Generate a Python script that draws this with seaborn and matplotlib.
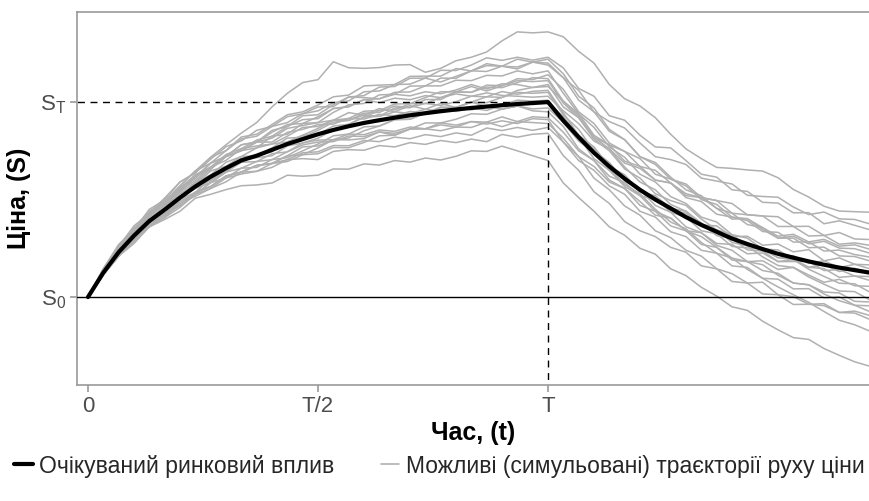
import matplotlib
matplotlib.use("Agg")
import matplotlib.pyplot as plt
import numpy as np
import pandas as pd
import seaborn as sns
from matplotlib.lines import Line2D

# ---------------- data ----------------
# time steps: step k corresponds to t = k/30 * T (T = 1)
steps = list(range(52))
steps_per_T = 30

# expected market impact, in units of (S_T - S_0), S_0 = 0, S_T = 1
expected_impact = [
    0.0, 0.125, 0.23, 0.315, 0.39, 0.448, 0.51, 0.567, 0.617, 0.661,
    0.701, 0.725, 0.755, 0.785, 0.81, 0.835, 0.857, 0.876, 0.893, 0.907,
    0.92, 0.932, 0.943, 0.953, 0.962, 0.97, 0.977, 0.984, 0.99, 0.995,
    1.0, 0.905, 0.82, 0.74, 0.67, 0.607, 0.55, 0.50, 0.455, 0.41,
    0.37, 0.335, 0.30, 0.272, 0.246, 0.222, 0.202, 0.183, 0.166, 0.151,
    0.138, 0.125,
]

# simulated price paths, as offsets from the expected curve (hundredths of S_T - S_0)
path_01 = [0,1,2,1,3,4,6,8,10,12, 14,17,22,26,29,28,35,30,28,27, 27,26,21,22,25,26,28,33,37,36,
           36,43,44,46,42,41,43,42,38,35, 34,33,36,38,40,39,35,33,30,29, 30,31]
path_02 = [0,1,0,2,4,3,5,4,7,6, 8,7,10,9,12,10,13,15,14,17, 16,19,18,21,20,22,25,23,24,22,
           23,27,25,29,26,30,28,27,31,29, 26,28,25,27,24,26,23,25,21,24, 23,22]
path_03 = [0,-1,1,0,2,1,3,2,4,6, 5,4,7,5,8,6,9,11,10,13, 12,15,14,17,16,19,21,20,23,21,
           22,24,21,23,19,20,17,18,15,16, 13,14,11,12,9,11,8,10,7,9, 8,8]
path_04 = [0,2,3,2,5,4,6,8,7,9, 11,10,12,11,13,12,14,13,16,15, 17,16,18,15,17,19,18,20,18,21,
           19,22,24,21,23,26,24,22,25,27, 24,26,28,25,27,29,26,24,27,25, 26,25]
path_05 = [0,1,2,4,3,5,4,6,5,7, 6,8,7,9,10,8,11,10,12,11, 13,12,14,13,15,14,16,15,17,15,
           16,14,12,13,10,11,8,9,6,7, 4,5,2,3,0,-2,-1,-4,-6,-8, -7,-10]
path_06 = [0,0,-1,1,0,-2,-1,-3,-1,-2, 0,-1,-3,-1,-2,-2,0,1,3,2, 5,4,7,6,9,8,11,10,13,12,
           14,16,13,15,12,14,16,13,15,17, 14,16,18,15,17,19,16,18,15,18, 16,17]
path_07 = [0,-1,-2,0,-1,1,0,2,1,3, 2,4,3,1,2,3,5,4,6,5, 7,6,8,10,9,11,8,10,12,11,
           11,9,10,7,8,5,6,3,4,6, 3,1,2,-1,0,2,-1,-3,-2,-5, -3,-4]
path_08 = [0,2,4,3,6,5,8,7,9,11, 10,13,12,14,13,14,12,15,13,11, 12,10,11,9,10,12,9,11,10,8,
           8,10,12,9,11,14,12,15,13,10, 12,9,11,13,10,8,11,9,12,10, 11,10]
path_09 = [0,-1,0,-2,-1,-3,-2,-4,-3,-5, -4,-6,-5,-7,-6,-5,-3,-4,-2,-3, -1,-2,0,2,1,3,2,4,6,5,
           5,3,4,1,2,-1,0,-3,-2,-5, -4,-7,-6,-9,-8,-11,-13,-12,-15,-17, -18,-20]
path_10 = [0,1,0,2,3,2,4,5,7,6, 8,7,9,10,8,9,11,10,12,9, 10,8,9,7,8,6,7,5,4,3,
           3,5,7,6,9,8,11,10,13,12, 14,16,13,15,17,14,16,13,15,12, 14,14]
path_11 = [0,1,2,1,3,2,4,3,5,4, 6,5,3,4,6,4,5,3,4,2, 3,1,2,0,1,-1,0,-2,-1,-3,
           -3,-1,-2,0,-2,-4,-3,-6,-5,-7, -6,-8,-10,-9,-11,-10,-13,-12,-14,-13, -16,-15]
path_12 = [0,-1,-2,-1,-3,-2,-4,-3,-5,-4, -6,-5,-7,-6,-4,-6,-5,-7,-8,-6, -9,-7,-8,-10,-9,-7,-8,-6,-9,-7,
           -8,-6,-7,-4,-5,-2,-3,0,-1,2, 0,3,1,4,2,5,3,6,2,5, 3,4]
path_13 = [0,0,-1,-2,-1,-3,-2,-4,-3,-2, -4,-3,-5,-4,-3,-4,-6,-5,-7,-6, -8,-7,-5,-6,-8,-7,-9,-8,-10,-8,
           -9,-11,-10,-13,-12,-14,-13,-16,-15,-17, -16,-19,-18,-20,-17,-21,-20,-22,-21,-23, -22,-24]
path_14 = [0,-1,0,-2,-1,-3,-4,-3,-5,-4, -6,-5,-7,-8,-7,-9,-8,-10,-9,-11, -10,-12,-11,-13,-12,-14,-11,-13,-12,-14,
           -13,-11,-12,-9,-10,-8,-11,-9,-12,-10, -13,-11,-14,-12,-15,-13,-16,-14,-17,-15, -18,-17]
path_15 = [0,-1,-2,-3,-2,-4,-5,-4,-6,-7, -6,-8,-9,-8,-10,-13,-11,-12,-14,-13, -15,-14,-16,-15,-17,-16,-18,-15,-17,-16,
           -16,-18,-17,-20,-19,-22,-21,-19,-20,-18, -21,-19,-22,-20,-23,-21,-24,-22,-20,-23, -21,-22]
path_16 = [0,-1,-2,-4,-3,-5,-7,-6,-9,-11, -13,-15,-17,-16,-19,-21,-20,-22,-21,-23, -22,-24,-23,-25,-24,-22,-23,-21,-24,-27,
           -30,-32,-31,-30,-31,-29,-30,-28,-31,-30, -32,-33,-35,-34,-37,-39,-41,-40,-43,-45, -47,-48]
path_17 = [0,2,3,5,4,6,8,7,10,9, 12,11,13,15,14,15,17,16,19,18, 17,20,19,18,21,19,22,20,19,21,
           20,22,19,21,18,20,17,19,16,14, 15,12,13,10,11,8,10,7,9,6, 7,6]
path_18 = [0,0,1,-1,0,-2,-1,0,-2,-1, 1,0,-1,1,2,0,2,1,3,5, 4,6,5,7,9,8,10,9,11,13,
           12,10,11,8,9,6,4,5,2,3, 0,1,-2,-1,-4,-6,-5,-8,-10,-12, -11,-14]
path_19 = [0,1,0,-1,1,0,2,1,3,1, 2,0,1,3,1,2,4,3,5,4, 6,4,5,3,4,6,5,7,5,6,
           6,4,1,2,-1,-3,-2,-5,-7,-6, -9,-11,-10,-13,-15,-17,-19,-21,-24,-27, -28,-30]
path_20 = [0,-1,-2,-1,-3,-4,-3,-5,-6,-5, -7,-8,-7,-9,-8,-10,-9,-11,-10,-8, -9,-7,-8,-6,-5,-3,-4,-2,-1,1,
           0,2,1,3,0,2,-1,1,-2,0, -3,-1,-4,-2,0,-2,1,-1,2,0, 3,2]
path_21 = [0,1,3,2,4,3,5,6,4,6, 5,7,6,8,7,6,5,7,4,6, 3,5,2,4,1,3,0,-2,-1,-4,
           -5,-3,-6,-4,-7,-5,-8,-6,-9,-7, -10,-8,-11,-9,-6,-8,-5,-7,-9,-6, -8,-7]
path_22 = [0,0,1,0,-1,1,0,-1,-3,-2, -1,-3,-2,-4,-2,-3,-5,-4,-6,-5, -7,-6,-8,-7,-9,-10,-8,-11,-9,-10,
           -11,-9,-10,-7,-8,-5,-6,-8,-5,-7, -4,-6,-3,-5,-2,-4,-1,-3,0,-2, 1,0]
path_23 = [0,-1,0,-2,-3,-2,-4,-3,-5,-4, -6,-5,-7,-6,-8,-7,-5,-6,-4,-3, -1,-2,0,2,1,3,5,4,7,8,
           9,7,10,8,11,9,12,10,13,11, 14,12,10,13,11,9,12,10,13,11, 13,12]
path_24 = [0,1,2,1,3,4,3,5,4,6, 5,7,4,6,5,5,3,4,2,3, 1,2,0,1,-1,0,-2,0,2,1,
           1,-1,0,-3,-2,1,-1,2,0,3, 1,-2,0,-3,-1,-4,-2,0,-3,-1, -3,-2]

paths = [path_01, path_02, path_03, path_04, path_05, path_06, path_07, path_08,
         path_09, path_10, path_11, path_12, path_13, path_14, path_15, path_16,
         path_17, path_18, path_19, path_20, path_21, path_22, path_23, path_24]

x_tick_values = [0, 0.5, 1.0]
x_tick_labels = ["0", "T/2", "T"]
y_tick_values = [0, 1]
y_tick_labels = [r"$\mathregular{S_0}$", r"$\mathregular{S_T}$"]

label_expected = "Очікуваний ринковий вплив"
label_paths = "Можливі (симульовані) траєкторії руху ціни"
x_title = "Час, (t)"
y_title = "Ціна, (S)"

# ---------------- build tables ----------------
t = np.array(steps) / steps_per_T
mean_curve = np.array(expected_impact)
rows = []
for i, p in enumerate(paths):
    for k, d in enumerate(p):
        rows.append({"path": i, "t": t[k], "S": mean_curve[k] + d / 100.0})
df_paths = pd.DataFrame(rows)
df_mean = pd.DataFrame({"t": t, "S": mean_curve})

# ---------------- plot ----------------
sns.set_theme(style="white")
plt.rcParams["font.family"] = ["Liberation Sans", "DejaVu Sans"]

fig = plt.figure(figsize=(8.70, 5.01), dpi=100)
ax = fig.add_axes([77 / 870, 116 / 501, 1 - 77 / 870, 373 / 501])

gray = "#b0b0b0"
sns.lineplot(data=df_paths, x="t", y="S", units="path", estimator=None,
             color=gray, linewidth=1.1, ax=ax, legend=False, zorder=2)
ax.axhline(0, color="black", linewidth=1.0, zorder=3)
ax.plot([-0.05, 1.0], [1.0, 1.0], color="black", linewidth=1.0,
        linestyle=(0, (5, 4)), zorder=3)
ax.plot([1.0, 1.0], [-1.0, 1.0], color="black", linewidth=1.0,
        linestyle=(0, (5, 4)), zorder=3)
sns.lineplot(data=df_mean, x="t", y="S", color="black", linewidth=3.0,
             ax=ax, legend=False, zorder=4)

ax.set_xlim(-0.0239, 1.70)
ax.set_ylim(-0.451, 1.462)

ax.set_xticks(x_tick_values)
ax.set_xticklabels(x_tick_labels)
ax.set_yticks(y_tick_values)
ax.set_yticklabels(y_tick_labels)
ax.tick_params(axis="both", colors="#999999", length=5, width=1.2,
               labelcolor="#4d4d4d", labelsize=16, pad=3)
ax.tick_params(axis="x", bottom=True)
ax.tick_params(axis="y", left=True)

for side in ["left", "bottom", "top"]:
    ax.spines[side].set_color("#999999")
    ax.spines[side].set_linewidth(1.2)
    ax.spines[side].set_visible(True)
ax.spines["right"].set_visible(False)

ax.set_xlabel(x_title, fontsize=18, fontweight="bold", color="black", labelpad=3)
ax.set_ylabel(y_title, fontsize=18, fontweight="bold", color="black", labelpad=6)

handles = [Line2D([0], [0], color="black", linewidth=3.0),
           Line2D([0], [0], color=gray, linewidth=1.2)]
fig.legend(handles, [label_expected, label_paths], loc="center",
           bbox_to_anchor=(0.505, 35 / 501), ncol=2, frameon=False,
           fontsize=16.5, handlelength=0.8, handletextpad=0.3, columnspacing=2.0,
           borderaxespad=0, borderpad=0)

fig.savefig("out.png", dpi=100)
